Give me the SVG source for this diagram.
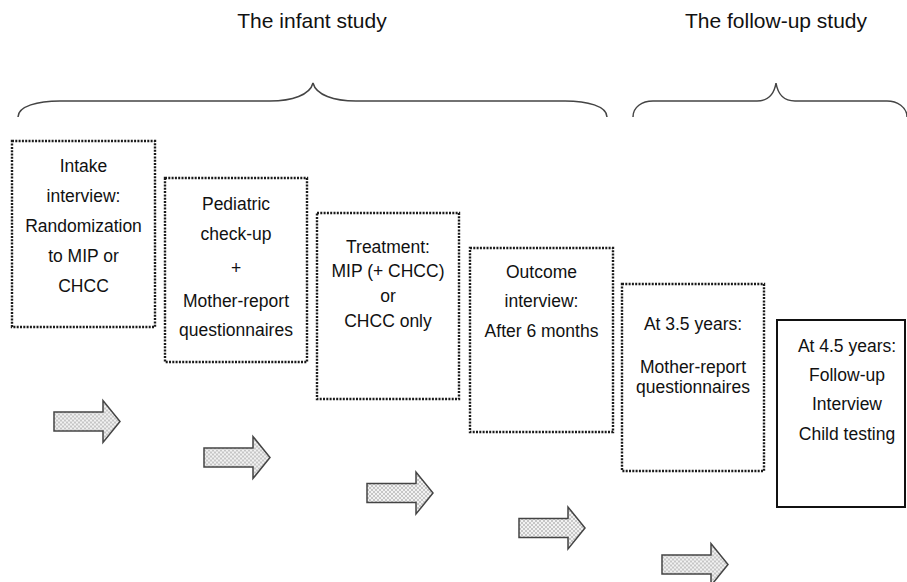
<svg xmlns="http://www.w3.org/2000/svg" xmlns:xlink="http://www.w3.org/1999/xlink" width="907" height="582" viewBox="0 0 907 582">
<style>
text{font-family:"Liberation Sans",Arial,sans-serif;font-size:17.5px;fill:#111;text-anchor:middle}
.title{font-size:21px}
.dot{fill:none;stroke:#1a1a1a;stroke-width:2.4;stroke-dasharray:2 1.3}
.solid{fill:none;stroke:#111;stroke-width:2}
.brace{fill:none;stroke:#444;stroke-width:1.5}
.arr{fill:url(#chk);stroke:#444;stroke-width:1.5;stroke-linejoin:miter}
</style>
<defs>
<pattern id="chk" width="4" height="4" patternUnits="userSpaceOnUse">
<rect width="4" height="4" fill="#f2f2f2"/>
<rect width="2" height="2" fill="#c6c6c6"/>
<rect x="2" y="2" width="2" height="2" fill="#c6c6c6"/>
</pattern>
<path id="arrow" class="arr" d="M0,-9.5 L49,-9.5 L49,-21 L66,0 L49,21 L49,9.5 L0,9.5 Z"/>
</defs>
<rect width="907" height="582" fill="#fff"/>
<g id="titles">
<text class="title" x="312" y="28">The infant study</text>
<text class="title" x="776" y="28">The follow-up study</text>
</g>
<g id="braces">
<path class="brace" d="M18,117 C18,106 38,101 60,101 L270,101 C292,101 310,95 313,83 C316,95 334,101 356,101 L565,101 C587,101 607,106 607,117"/>
<path class="brace" d="M633,117 C633,107 642,101 653,101 L757,101 C767,101 774,95 776,83 C778,95 785,101 795,101 L887,101 C897,101 907,107 907,117"/>
</g>
<g id="node-intake">
<rect class="dot" x="12" y="141" width="143" height="186"/>
<text x="83.5" y="172">Intake</text>
<text x="83.5" y="202">interview:</text>
<text x="83.5" y="232">Randomization</text>
<text x="83.5" y="262">to MIP or</text>
<text x="83.5" y="292">CHCC</text>
</g>
<g id="node-pediatric">
<rect class="dot" x="165" y="178" width="142" height="184"/>
<text x="236" y="210">Pediatric</text>
<text x="236" y="240">check-up</text>
<text x="236" y="274">+</text>
<text x="236" y="307">Mother-report</text>
<text x="236" y="336">questionnaires</text>
</g>
<g id="node-treatment">
<rect class="dot" x="317" y="213" width="142" height="186"/>
<text x="388" y="253">Treatment:</text>
<text x="388" y="277">MIP (+ CHCC)</text>
<text x="388" y="302">or</text>
<text x="388" y="327">CHCC only</text>
</g>
<g id="node-outcome">
<rect class="dot" x="470" y="248" width="143" height="184"/>
<text x="541.5" y="278">Outcome</text>
<text x="541.5" y="307">interview:</text>
<text x="541.5" y="337">After 6 months</text>
</g>
<g id="node-35years">
<rect class="dot" x="622" y="284" width="142" height="187"/>
<text x="693" y="330">At 3.5 years:</text>
<text x="693" y="373">Mother-report</text>
<text x="693" y="393">questionnaires</text>
</g>
<g id="node-45years">
<rect class="solid" x="777" y="320" width="128" height="187"/>
<text x="847" y="352">At 4.5 years:</text>
<text x="847" y="381">Follow-up</text>
<text x="847" y="410">Interview</text>
<text x="847" y="440">Child testing</text>
</g>
<g id="connectors">
<use xlink:href="#arrow" transform="translate(54,421.5)"/>
<use xlink:href="#arrow" transform="translate(204,457.5)"/>
<use xlink:href="#arrow" transform="translate(367,493)"/>
<use xlink:href="#arrow" transform="translate(519,528)"/>
<use xlink:href="#arrow" transform="translate(662,564.5)"/>
</g>
</svg>
